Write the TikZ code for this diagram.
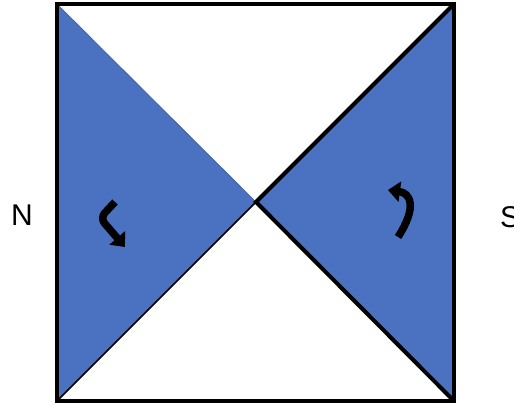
\documentclass[tikz,border=0pt]{standalone}
\usepackage{fontspec}
\setmainfont{Liberation Sans}
\usetikzlibrary{arrows.meta}
\definecolor{tri}{HTML}{4A72C0}
\tikzset{curvarrow/.style={line width=7.5pt,-{Triangle[length=12pt,width=20pt]}}}
\begin{document}
\begin{tikzpicture}[x=1pt,y=-1pt]
\useasboundingbox (0,0) rectangle (514,405);
\coordinate (tl) at (57,4);
\coordinate (tr) at (454,4);
\coordinate (br) at (454,401);
\coordinate (bl) at (57,401);
\coordinate (c) at (256,202);
% blue triangles
\fill[tri] (tl) -- (bl) -- (c) -- cycle;
\fill[tri] (tr) -- (br) -- (c) -- cycle;
% thin edges
\draw[tri!80!black, line width=0.6pt] (tl) -- (c);
\draw[black, line width=1.6pt] (bl) -- (c);
% right triangle outline
\draw[black, line width=4pt, line join=miter] (tr) -- (c) -- (br);
% square
\draw[black, line width=4pt, line join=miter] (tl) -- (tr) -- (br) -- (bl) -- cycle;
% arrows
\draw[curvarrow, rounded corners=7pt] (115,202) -- (100,218) -- (125,247);
\draw[curvarrow] (398,237) .. controls (418,206) and (410,193) .. (388,190);
% labels
\node[font=\fontsize{30}{30}\selectfont, inner sep=0pt] (N) at (22,215) {N};
\node[font=\fontsize{30}{30}\selectfont, inner sep=0pt, anchor=west] (S) at (500,217) {S};
\end{tikzpicture}
\end{document}
